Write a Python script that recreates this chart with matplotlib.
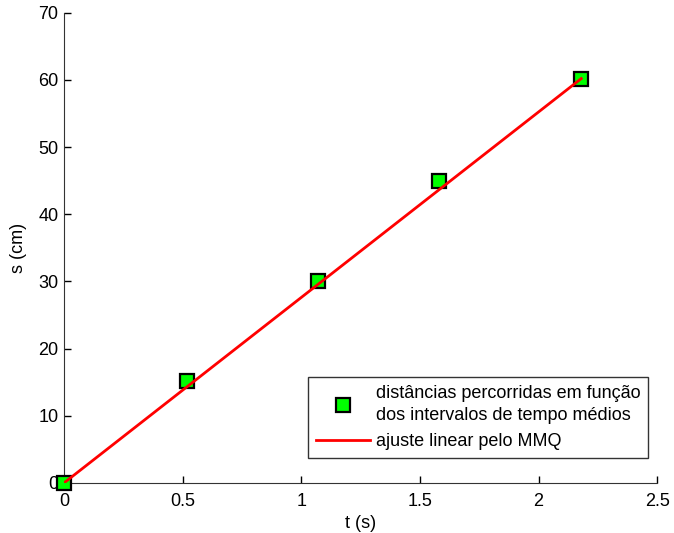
import matplotlib
matplotlib.use("Agg")
import matplotlib.pyplot as plt

plt.rcParams['font.family'] = ['Liberation Sans', 'DejaVu Sans']

# measured points
t_data = [0.0, 0.52, 1.07, 1.58, 2.18]
s_data = [0.0, 15.2, 30.1, 45.0, 60.2]

# least-squares line endpoints
t_fit = [0.0, 2.18]
s_fit = [0.0, 60.2]

x_ticks = [0, 0.5, 1, 1.5, 2, 2.5]
x_labels = ['0', '0.5', '1', '1.5', '2', '2.5']
y_ticks = [0, 10, 20, 30, 40, 50, 60, 70]

fig = plt.figure(figsize=(6.74, 5.33), dpi=100)
ax = fig.add_axes([0.095, 0.094, 0.880, 0.882])

ax.plot(t_data, s_data, 's', color='#00ff00', markeredgecolor='black',
        markeredgewidth=1.6, markersize=10, clip_on=False, zorder=3,
        label='distâncias percorridas em função\ndos intervalos de tempo médios')
ax.plot(t_fit, s_fit, '-', color='red', linewidth=2, zorder=4,
        label='ajuste linear pelo MMQ')

ax.set_xlim(0, 2.5)
ax.set_ylim(0, 70)
ax.set_xticks(x_ticks)
ax.set_xticklabels(x_labels)
ax.set_yticks(y_ticks)
ax.tick_params(direction='in', labelsize=13, length=5, width=1,
               colors='black', top=False, right=False)
ax.tick_params(axis='x', pad=7)
ax.tick_params(axis='y', pad=4)
for side in ['top', 'right']:
    ax.spines[side].set_visible(False)
for side in ['left', 'bottom']:
    ax.spines[side].set_color('#333333')

ax.set_xlabel('t (s)', fontsize=13, labelpad=4)
ax.set_ylabel('s (cm)', fontsize=13, labelpad=8)

leg = ax.legend(loc='lower left', bbox_to_anchor=(0.411, 0.053), fontsize=13,
                frameon=True, fancybox=False, edgecolor='black',
                handlelength=3.0, borderpad=0.45, labelspacing=0.5,
                handletextpad=0.3, borderaxespad=0)
leg.get_frame().set_linewidth(1)
leg.get_texts()[0].set_linespacing(1.35)

fig.savefig('out.png', dpi=100)
